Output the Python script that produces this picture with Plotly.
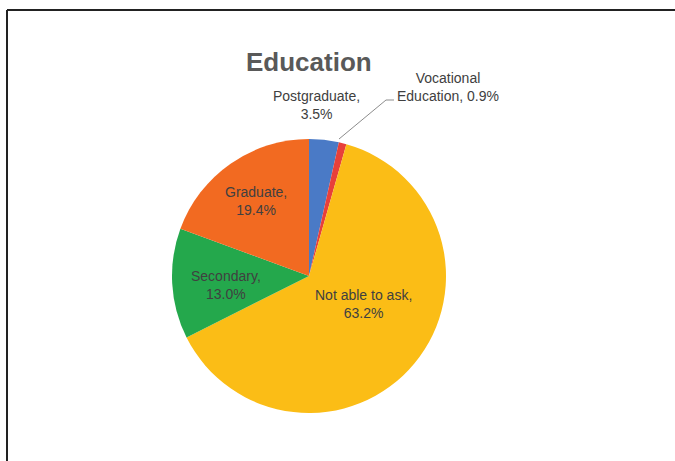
import plotly.graph_objects as go

# Education breakdown (percent of respondents)
categories = ["Postgraduate", "Vocational Education", "Not able to ask", "Secondary", "Graduate"]
shares = [3.5, 0.9, 63.2, 13.0, 19.4]
colors = ["#4A7AC6", "#E8403A", "#FBBD16", "#24A84C", "#F26A21"]

W, H = 675, 461


def px(x):
    return x / W


def py(y):
    return 1 - y / H


# pie centred at (309, 276) px
cx, cy, r = 309, 276, 137

fig = go.Figure(go.Pie(
    labels=categories,
    values=shares,
    sort=False,
    direction="clockwise",
    rotation=0,
    marker=dict(colors=colors, line=dict(width=0)),
    textinfo="none",
    hoverinfo="label+value",
    showlegend=False,
    domain=dict(x=[px(cx - r), px(cx + r)], y=[py(cy + r), py(cy - r)]),
))

label_font = dict(family="Liberation Sans, Arial, sans-serif", size=14, color="#404040")

# label positions (px) for each slice
label_pos = {
    "Postgraduate": (316, 105),
    "Vocational Education": (448, 87),
    "Not able to ask": (363, 304),
    "Secondary": (226, 285),
    "Graduate": (256, 201),
}

annotations = []
for name, val in zip(categories, shares):
    x, y = label_pos[name]
    if name == "Vocational Education":
        text = f"Vocational<br>Education, {val:.1f}%"
    else:
        text = f"{name},<br>{val:.1f}%"
    annotations.append(dict(
        x=px(x), y=py(y), xref="paper", yref="paper",
        text=text, showarrow=False, font=label_font, align="center",
        xanchor="center", yanchor="middle",
    ))

annotations.append(dict(
    x=px(309), y=py(62), xref="paper", yref="paper",
    text="<b>Education</b>", showarrow=False,
    font=dict(family="Liberation Sans, Arial, sans-serif", size=26, color="#595959"),
    xanchor="center", yanchor="middle",
))

shapes = [
    # leader line for the vocational slice
    dict(type="path", xref="paper", yref="paper",
         path=f"M {px(339)},{py(139)} L {px(386)},{py(100)} L {px(394)},{py(100)}",
         line=dict(color="#8C8C8C", width=1)),
    # frame around the chart area
    dict(type="line", xref="paper", yref="paper",
         x0=px(7), y0=py(10), x1=1, y1=py(10),
         line=dict(color="#222222", width=2)),
    dict(type="line", xref="paper", yref="paper",
         x0=px(7), y0=py(10), x1=px(7), y1=0,
         line=dict(color="#222222", width=2)),
]

fig.update_layout(
    width=W, height=H,
    margin=dict(l=0, r=0, t=0, b=0),
    paper_bgcolor="white",
    plot_bgcolor="white",
    annotations=annotations,
    shapes=shapes,
)

fig.write_html("out.html")
